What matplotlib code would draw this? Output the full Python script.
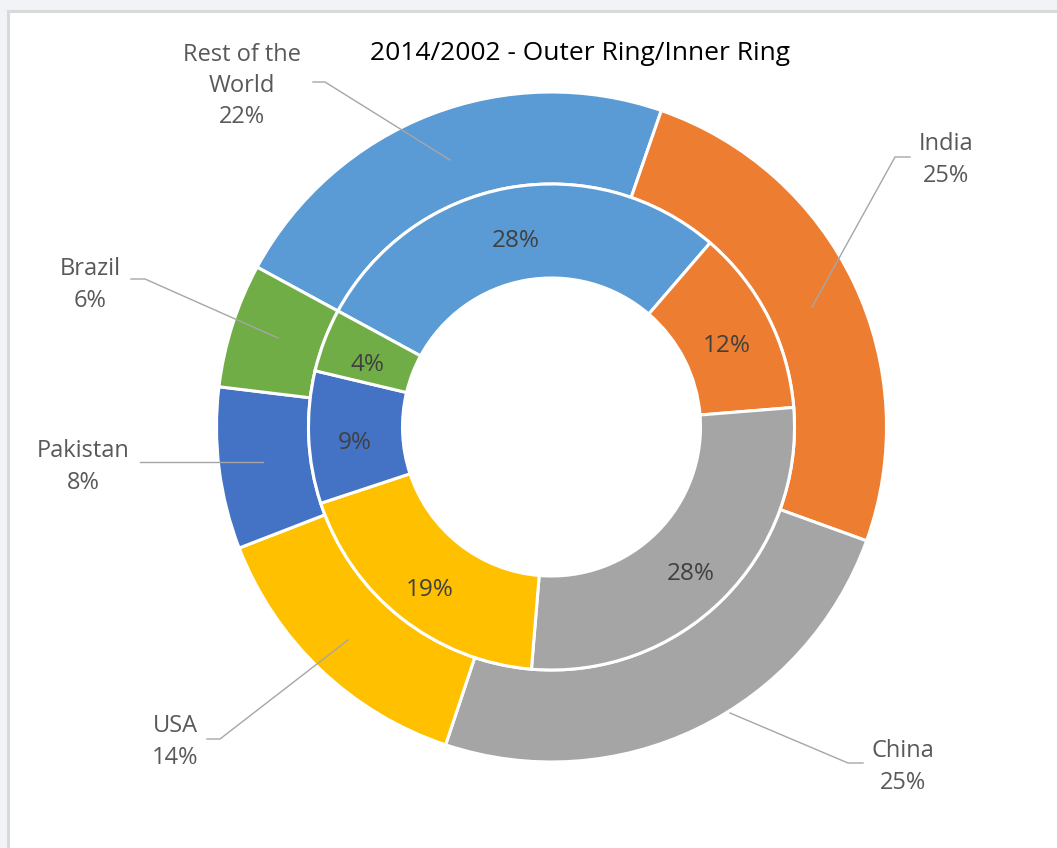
import matplotlib
matplotlib.use('Agg')
import numpy as np
from matplotlib import pyplot as plt
from matplotlib.patches import Rectangle

plt.rcParams['font.family'] = ['Open Sans', 'DejaVu Sans']

# data, clockwise from the first slice
countries = ['Rest of the\nWorld', 'India', 'China', 'USA', 'Pakistan', 'Brazil']
share_2014 = [22.4, 25.2, 24.6, 14.0, 7.8, 6.0]   # outer ring
share_2002 = [28.4, 12.4, 27.6, 18.6, 8.8, 4.2]   # inner ring
colors = ['#5B9BD5', '#ED7D31', '#A5A5A5', '#FFC000', '#4472C4', '#70AD47']

W, H = 1057, 848
fig = plt.figure(figsize=(W / 100, H / 100), dpi=100)
fig.patch.set_facecolor('#f2f3f6')
ax = fig.add_axes([0, 0, 1, 1])

cx, cy = 551.5, H - 427
start = 90 - 298.5   # first slice starts 298.5 deg clockwise from top

ax.pie(share_2014, colors=colors, radius=335, center=(cx, cy),
       startangle=start, counterclock=False, frame=True,
       wedgeprops=dict(width=92, edgecolor='white', linewidth=2.2))

wedges, texts, autotexts = ax.pie(
    share_2002, colors=colors, radius=243, center=(cx, cy),
    startangle=start, counterclock=False, frame=True,
    autopct='%1.0f%%', pctdistance=0.81,
    wedgeprops=dict(width=94, edgecolor='white', linewidth=2.2),
    textprops=dict(color='#404040', fontsize=17.5))
for t in autotexts:
    t.set_va('center_baseline')
    x, y = t.get_position()
    t.set_position((x, y - 5))

ax.set_xlim(0, W)
ax.set_ylim(0, H)
ax.set_aspect('equal')
ax.axis('off')

# chart area
ax.add_patch(Rectangle((8, -10), W, H - 11 + 10, facecolor='white',
                       edgecolor='#d9d9d9', lw=2.2, zorder=-1))

# outer ring labels with leader lines (pixel positions of the screenshot)
label_pos = [(242, 86), (946, 160), (903, 767), (175, 742), (83, 467), (90, 285)]
leaders = [
    [(313, 82), (325, 82), (450, 160)],
    [(910, 157), (895, 157), (812, 307)],
    [(863, 763), (848, 763), (730, 713)],
    [(207, 739), (220, 739), (348, 640)],
    [(140, 462), (263, 462)],
    [(131, 279), (145, 279), (278, 338)],
]
for name, val, (lx, ly), pts in zip(countries, share_2014, label_pos, leaders):
    xs = [p[0] for p in pts]
    ys = [H - p[1] for p in pts]
    ax.plot(xs, ys, color='#a6a6a6', lw=1.0, zorder=5)
    ax.text(lx, H - ly, '%s\n%d%%' % (name, round(val)), ha='center', va='center',
            color='#595959', fontsize=17, linespacing=1.4, zorder=6)

ax.text(580, H - 53, '2014/2002 - Outer Ring/Inner Ring', ha='center', va='center',
        color='black', fontsize=19)

fig.savefig('out.png', dpi=100, facecolor=fig.get_facecolor())
